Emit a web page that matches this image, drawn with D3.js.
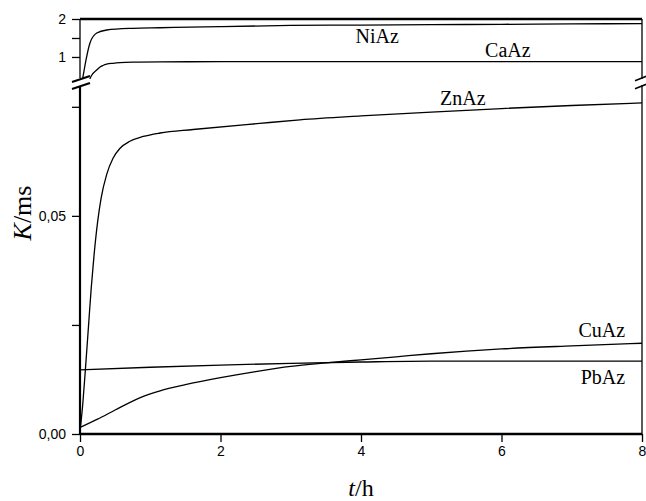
<!DOCTYPE html>
<html>
<head>
<meta charset="utf-8">
<script src="https://cdn.jsdelivr.net/npm/d3@7"></script>
<style>
  body { margin: 0; background: #fff; }
  svg { display: block; }
</style>
</head>
<body>
<svg id="chart" width="646" height="501"></svg>
<script>
// upper panel (broken axis, K 0.4 .. 2)
const niAzT = [0.03, 0.047, 0.085, 0.142, 0.238, 0.38, 0.75, 1.14, 2, 3, 4, 5, 6, 7, 8]
const niAzK = [0.35, 0.53, 0.92, 1.37, 1.63, 1.71, 1.755, 1.77, 1.8, 1.83, 1.84, 1.85, 1.86, 1.87, 1.88]
const caAzT = [0.14, 0.164, 0.238, 0.285, 0.327, 0.38, 0.47, 0.57, 0.75, 1.14, 2, 4, 6, 8]
const caAzK = [0.42, 0.513, 0.658, 0.735, 0.775, 0.81, 0.834, 0.852, 0.865, 0.872, 0.875, 0.877, 0.878, 0.88]
// lower panel (K 0 .. 0.08)
const znAzT = [0, 0.04, 0.08, 0.12, 0.16, 0.2, 0.25, 0.3, 0.38, 0.47, 0.57, 0.71, 0.9, 1.14, 1.61, 2.56, 3.13, 4, 5, 6, 7, 8]
const znAzK = [0.0005, 0.007, 0.0155, 0.0245, 0.0335, 0.041, 0.0485, 0.054, 0.0595, 0.0632, 0.0655, 0.0671, 0.0682, 0.069, 0.0698, 0.0712, 0.072, 0.0729, 0.0738, 0.0746, 0.0753, 0.0759]
const cuAzT = [0, 0.25, 0.5, 0.85, 1.14, 1.5, 2, 2.5, 3, 3.5, 4, 4.5, 5, 5.5, 6, 7, 8]
const cuAzK = [0.0015, 0.0034, 0.0055, 0.0083, 0.0099, 0.0113, 0.0129, 0.0143, 0.0155, 0.0163, 0.017, 0.0177, 0.0184, 0.019, 0.0195, 0.0202, 0.0208]
const pbAzT = [0, 1, 2, 3, 4, 5, 6, 8]
const pbAzK = [0.0147, 0.0153, 0.0158, 0.0162, 0.0165, 0.0167, 0.0167, 0.0167]

const xTicks = [0, 2, 4, 6, 8]
const lowTicks = [0, 0.05]
const lowMinor = [0.025, 0.075]
const upTicks = [1, 2]
const upMinor = [1.5]

const seriesLabels = [
  { name: 'NiAz', panel: 'up', t: 4.23, k: 1.36, anchor: 'middle' },
  { name: 'CaAz', panel: 'up', t: 6.09, k: 1.0, anchor: 'middle' },
  { name: 'ZnAz', panel: 'low', t: 5.45, k: 0.0754, anchor: 'middle' },
  { name: 'CuAz', panel: 'low', t: 7.76, k: 0.0222, anchor: 'end' },
  { name: 'PbAz', panel: 'low', t: 7.76, k: 0.0114, anchor: 'end' },
]

const plotL = 80, plotR = 642, plotT = 19, plotB = 434
const upBottom = 79, lowTop = 85

const x = d3.scaleLinear().domain([0, 8]).range([plotL, plotR])
const yUp = d3.scaleLinear().domain([0.42, 2]).range([upBottom, plotT])
const yLow = d3.scaleLinear().domain([0, 0.08]).range([plotB, lowTop])

const comma = d3.formatLocale({ decimal: ',', thousands: '.', grouping: [3], currency: ['', ''] })

const svg = d3.select('#chart')
const defs = svg.append('defs')
defs.append('clipPath').attr('id', 'clip-up')
  .append('rect').attr('x', plotL).attr('y', plotT).attr('width', plotR - plotL).attr('height', upBottom - plotT)
defs.append('clipPath').attr('id', 'clip-low')
  .append('rect').attr('x', plotL).attr('y', lowTop).attr('width', plotR - plotL).attr('height', plotB - lowTop)

const line = yScale => d3.line()
  .x(d => x(d[0]))
  .y(d => yScale(d[1]))
  .curve(d3.curveMonotoneX)

const zip = (ts, ks) => ts.map((t, i) => [t, ks[i]])

const upG = svg.append('g').attr('clip-path', 'url(#clip-up)')
const lowG = svg.append('g').attr('clip-path', 'url(#clip-low)')

;[[niAzT, niAzK], [caAzT, caAzK]].forEach(([ts, ks]) => {
  upG.append('path')
    .attr('d', line(yUp)(zip(ts, ks)))
    .attr('fill', 'none').attr('stroke', '#000').attr('stroke-width', 1.3)
})
;[[znAzT, znAzK], [cuAzT, cuAzK], [pbAzT, pbAzK]].forEach(([ts, ks]) => {
  lowG.append('path')
    .attr('d', line(yLow)(zip(ts, ks)))
    .attr('fill', 'none').attr('stroke', '#000').attr('stroke-width', 1.3)
})

// axes
const tickFont = g => g.selectAll('text')
  .attr('font-family', '"Liberation Sans", Arial, sans-serif')
  .attr('font-size', 14).attr('fill', '#000')

const xAxis = svg.append('g')
  .attr('transform', `translate(0,${plotB})`)
  .call(d3.axisBottom(x).tickValues(xTicks).tickFormat(d3.format('d')).tickSize(8).tickPadding(4))
xAxis.select('.domain').attr('stroke-width', 2.5).attr('d', `M${plotL},0H${plotR}`)
xAxis.selectAll('.tick line').attr('stroke-width', 1.3)
xAxis.call(tickFont)

const lowAxis = svg.append('g')
  .attr('transform', `translate(${plotL},0)`)
  .call(d3.axisLeft(yLow).tickValues(lowTicks).tickFormat(comma.format('.2f')).tickSize(8).tickPadding(6))
lowAxis.select('.domain').attr('stroke-width', 2.2).attr('d', `M0,${plotB}V${lowTop + 1}`)
lowAxis.selectAll('.tick line').attr('stroke-width', 1.3)
lowAxis.call(tickFont)
svg.append('g')
  .attr('transform', `translate(${plotL},0)`)
  .call(d3.axisLeft(yLow).tickValues(lowMinor).tickFormat('').tickSize(8))
  .call(g => g.select('.domain').remove())
  .selectAll('.tick line').attr('stroke-width', 1.3)

const upAxis = svg.append('g')
  .attr('transform', `translate(${plotL},0)`)
  .call(d3.axisLeft(yUp).tickValues(upTicks).tickFormat(d3.format('d')).tickSize(8).tickPadding(6))
upAxis.select('.domain').attr('stroke-width', 1.3).attr('d', `M0,${plotT}V${upBottom - 1}`)
upAxis.selectAll('.tick line').attr('stroke-width', 1.3)
upAxis.call(tickFont)
svg.append('g')
  .attr('transform', `translate(${plotL},0)`)
  .call(d3.axisLeft(yUp).tickValues(upMinor).tickFormat('').tickSize(8))
  .call(g => g.select('.domain').remove())
  .selectAll('.tick line').attr('stroke-width', 1.3)

// frame: top and right
svg.append('line').attr('x1', plotL).attr('x2', plotR).attr('y1', plotT).attr('y2', plotT)
  .attr('stroke', '#000').attr('stroke-width', 2.5)
svg.append('line').attr('x1', plotR).attr('x2', plotR).attr('y1', plotT).attr('y2', upBottom)
  .attr('stroke', '#000').attr('stroke-width', 1.3)
svg.append('line').attr('x1', plotR).attr('x2', plotR).attr('y1', lowTop).attr('y2', plotB)
  .attr('stroke', '#000').attr('stroke-width', 1.3)

// break marks
const slash = (cx, cy, hw, dy, w) => svg.append('line')
  .attr('x1', cx - hw).attr('y1', cy + dy).attr('x2', cx + hw).attr('y2', cy - dy)
  .attr('stroke', '#000').attr('stroke-width', w)
slash(plotL + 1, upBottom, 9, 3, 2)
slash(plotL + 1, lowTop + 1, 9, 3, 2)
slash(plotR, upBottom - 1, 7, 2.8, 1.5)
slash(plotR, lowTop + 1, 7, 2.8, 1.5)

// series labels
svg.append('g').selectAll('text')
  .data(seriesLabels)
  .join('text')
  .attr('x', d => x(d.t))
  .attr('y', d => (d.panel === 'up' ? yUp : yLow)(d.k))
  .attr('text-anchor', d => d.anchor)
  .attr('font-family', '"Liberation Serif", "Times New Roman", serif')
  .attr('font-size', 20)
  .text(d => d.name)

// axis titles
const title = svg.append('text')
  .attr('font-family', '"Liberation Serif", "Times New Roman", serif')
  .attr('font-size', 26)
  .attr('text-anchor', 'middle')
  .attr('transform', 'translate(31,213) rotate(-90)')
title.append('tspan').attr('font-style', 'italic').text('K')
title.append('tspan').text('/ms')

const xt = svg.append('text')
  .attr('font-family', '"Liberation Serif", "Times New Roman", serif')
  .attr('font-size', 24)
  .attr('text-anchor', 'middle')
  .attr('x', (plotL + plotR) / 2).attr('y', 496)
xt.append('tspan').attr('font-style', 'italic').text('t')
xt.append('tspan').text('/h')
</script>
</body>
</html>
